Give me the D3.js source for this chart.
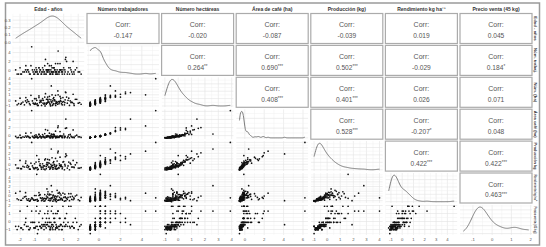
<!DOCTYPE html>
<html>
<head>
<meta charset="utf-8">
<script src="https://cdn.jsdelivr.net/npm/d3@7"></script>
<style>
  body { margin: 0; background: #fff; }
  svg { display: block; font-family: "Liberation Sans", Arial, sans-serif; }
</style>
</head>
<body>
<div id="chart"></div>
<script>
// column / row strip labels
const colLabels = ["Edad - años", "Número trabajadores", "Número hectáreas", "Área de café (ha)",
    "Producción (kg)", "Rendimiento kg ha\u207B\u00B9", "Precio venta (45 kg)"];
const rowLabels = ["Edad - años", "Núm. trabaj.", "Núm. (ha)", "Área café (ha)",
    "Producción kg", "Rendimiento kg ha\u207B\u00B9", "Precio venta (45 kg)"];

// standardised observations, one array per variable
const edad = [-2.1,-1.8,-1.5,-1.3,-1.1,-0.9,-0.8,-0.6,-0.5,-0.3,
    -0.2,-0.1,0.0,0.1,0.2,0.3,0.4,0.5,0.6,0.7,
    0.8,0.9,1.0,1.1,1.2,1.4,1.5,1.7,1.9,2.2,
    -2.3,-1.9,-1.6,-1.4,-1.2,-1.0,-0.9,-0.7,-0.55,-0.4,
    -0.25,-0.15,-0.05,0.05,0.15,0.25,0.35,0.45,0.55,0.65,
    0.75,0.85,0.95,1.05,1.15,1.3,1.45,1.6,1.8,2.0,
    -2.0,-1.7,-1.45,-1.25,-1.05,-0.85,-0.65,-0.45,-0.35,-0.2,
    -0.1,0.0,0.12,0.22,0.32,0.42,0.62,0.82,1.25,1.65,
    -1.95,-1.55,-1.15,-0.75,-0.42,-0.18,0.08,0.28,0.48,0.72,
    -1.35,-0.95,-0.62,-0.28,0.02,0.18,0.38,0.58,0.92,1.35,
    -2.2,-1.62,-0.82,-0.52,-0.12,0.14,0.44,0.68,1.08,1.55,
    -1.0,-0.7,-0.32,-0.08,0.26,0.52,0.78,1.12,1.72,2.1];
const trabajadores = [-0.82,-0.35,0.12,-0.82,-0.35,0.59,-0.82,0.12,-0.35,1.06,
    -0.82,-0.35,0.12,-0.82,0.59,-0.35,0.12,-0.82,1.53,-0.35,
    0.12,-0.82,0.59,-0.35,2.0,-0.82,0.12,-0.35,0.59,-0.82,
    0.12,-0.82,1.06,-0.35,5.3,0.12,-0.35,0.59,-0.82,0.12,
    2.47,-0.35,0.12,-0.82,1.06,-0.35,0.59,-0.82,0.12,-0.35,
    1.53,-0.35,0.12,-0.82,2.94,-0.35,0.59,-0.82,0.12,-0.35,
    0.59,-0.35,0.12,1.06,-0.82,0.12,-0.35,0.59,-0.82,0.12,
    1.53,-0.35,0.12,-0.82,0.59,-0.35,4.35,0.12,-0.82,2.0,
    -0.82,-0.35,0.12,-0.82,-0.35,0.12,-0.82,0.59,-0.35,0.12,
    -0.82,-0.35,0.12,-0.82,1.06,-0.35,0.12,-0.82,-0.35,0.59,
    -0.82,0.12,-0.35,-0.82,0.12,-0.35,1.53,-0.82,0.12,-0.35,
    -0.82,0.59,-0.35,0.12,-0.82,-0.35,0.12,2.47,-0.82,-0.35];
const hectareas = [-0.6,-0.3,0.1,-0.8,-0.5,0.3,-0.9,-0.2,0.0,0.6,
    -0.7,-0.4,0.2,-1.0,1.0,-0.6,-0.1,-0.5,1.7,-0.3,
    0.4,-0.8,-0.2,0.1,0.6,-0.9,-0.4,-0.6,0.2,-0.7,
    -0.1,-0.5,0.5,-0.2,3.9,0.3,-0.7,0.8,-0.3,0.0,
    1.2,-0.5,-0.3,-0.6,2.6,-0.1,0.1,-0.9,-0.4,-0.2,
    0.7,-0.6,0.5,-0.8,1.4,0.0,-0.1,-0.4,0.2,-0.5,
    0.4,-0.8,-0.2,0.9,-0.6,0.0,-0.4,0.3,-0.7,-0.5,
    0.6,-0.3,0.1,-0.9,0.5,-0.6,1.0,-0.2,-0.5,1.1,
    -0.7,-0.4,-0.1,-0.9,-0.5,0.2,-0.8,0.3,-0.3,-0.2,
    -0.6,-0.5,0.0,-1.0,0.7,-0.4,0.1,-0.7,-0.3,0.4,
    -0.8,-0.1,-0.6,-0.9,0.2,-0.2,0.9,-0.6,-0.4,-0.3,
    -0.7,0.5,-0.5,-0.1,-0.8,-0.2,0.0,1.5,-0.9,-0.4];
const areaCafe = [-0.45,-0.3,-0.1,-0.5,-0.35,0.2,-0.55,-0.2,-0.3,0.5,
    -0.4,-0.25,-0.1,-0.5,0.3,-0.3,-0.15,-0.45,2.0,-0.2,
    0.0,-0.5,0.4,-0.3,1.9,-0.55,-0.1,-0.35,0.1,-0.45,
    -0.2,-0.5,0.6,-0.3,6.2,0.0,-0.4,0.3,-0.5,-0.15,
    1.5,-0.3,-0.2,-0.5,0.4,-0.25,0.2,-0.55,-0.1,-0.35,
    1.0,-0.3,-0.05,-0.5,4.1,-0.2,0.3,-0.45,-0.1,-0.3,
    0.1,-0.4,-0.2,0.7,-0.5,-0.1,-0.3,0.25,-0.45,-0.15,
    1.3,-0.25,0.0,-0.5,0.35,-0.3,2.4,-0.15,-0.5,1.4,
    -0.5,-0.35,-0.2,-0.5,-0.3,-0.1,-0.45,0.15,-0.3,-0.15,
    -0.5,-0.3,-0.15,-0.55,0.6,-0.25,-0.1,-0.45,-0.35,0.2,
    -0.5,-0.1,-0.3,-0.55,0.0,-0.2,1.1,-0.45,-0.15,-0.3,
    -0.5,0.3,-0.35,-0.05,-0.5,-0.25,-0.1,1.8,-0.5,-0.3];
const produccion = [-0.7,-0.4,-0.2,-0.9,-0.6,0.4,-1.0,-0.3,-0.5,0.8,
    -0.8,-0.1,0.2,-0.7,1.2,-0.6,-0.4,-0.9,2.1,0.1,
    -0.2,-0.8,0.5,-0.3,1.6,-1.0,0.0,-0.5,0.3,-0.6,
    -0.1,-0.8,0.6,-0.4,4.0,0.1,-0.7,0.9,-0.6,-0.3,
    1.0,0.3,-0.5,-0.9,2.8,-0.2,0.0,-0.7,0.6,-0.6,
    1.3,-0.4,0.4,-1.0,1.9,-0.3,0.2,-0.5,-0.1,-0.7,
    0.7,-0.5,-0.6,0.2,-0.8,1.6,-0.2,0.1,-0.9,-0.4,
    0.9,-0.5,0.0,-0.6,0.5,-0.8,2.4,-0.1,-0.7,0.7,
    -0.8,-0.5,-0.3,-0.9,-0.6,0.0,-0.7,0.3,-0.4,-0.2,
    -0.9,-0.6,0.1,-1.0,0.8,-0.3,-0.1,-0.8,-0.5,0.4,
    -0.7,0.2,-0.6,-0.9,-0.1,-0.4,1.1,-0.7,0.0,-0.5,
    -0.8,0.5,-0.3,0.3,-0.9,-0.2,-0.4,1.4,-0.6,-0.7];
const rendimiento = [-0.8,-0.5,-0.9,-1.0,-0.7,0.1,-1.1,-0.4,-0.9,0.3,
    -0.6,0.4,0.2,-0.95,0.9,-0.8,-0.7,-1.2,0.0,0.8,
    -0.6,-0.7,-0.3,-0.2,-0.5,-1.0,0.5,-0.4,0.2,-0.3,
    0.6,-0.9,-0.1,-0.6,-0.4,0.1,-0.8,0.7,-0.5,-0.6,
    -0.6,1.5,-0.9,-1.0,2.2,0.0,-0.4,-0.6,1.2,-0.9,
    0.5,-0.5,0.6,-1.1,-1.0,-0.3,-0.2,-0.1,0.0,-0.8,
    1.0,-0.2,-0.9,-0.7,-0.9,4.6,0.2,-0.4,-1.1,-0.5,
    -0.3,-0.6,0.3,-0.4,0.1,-1.0,0.6,0.2,-0.7,-0.8,
    -0.9,-0.6,-0.5,-1.0,-0.8,0.0,-0.5,0.2,-0.7,-0.3,
    -1.1,-0.8,0.3,-1.0,0.4,-0.4,-0.2,-0.9,-0.9,0.5,
    -0.6,0.7,-0.7,-1.0,-0.3,-0.6,0.0,-0.8,0.4,-0.7,
    -0.9,0.1,-0.5,0.9,-1.1,-0.2,-0.8,-0.3,-0.6,-1.0];
const precio = [-0.6,-1.0,1.9,-0.8,-0.1,1.3,-1.5,-0.6,-0.4,1.0,
    -0.8,-0.1,0.4,-1.0,1.9,-0.6,-0.1,-0.8,1.3,0.4,
    -0.4,-1.0,-0.1,-0.6,1.0,-0.6,1.9,-0.8,-0.1,-0.4,
    -0.6,-0.8,0.4,-1.0,1.3,-0.1,-0.6,1.0,-0.8,-0.4,
    -0.1,1.9,-0.6,-1.0,1.3,-0.4,-0.1,-0.8,1.0,-0.6,
    0.4,-1.0,1.9,-0.6,-0.4,-0.1,-0.8,-0.6,0.4,-1.0,
    1.3,-0.4,-0.6,-0.1,-0.8,1.9,-0.6,0.4,-1.0,-0.4,
    1.0,-0.6,-0.1,-0.8,0.4,-1.0,1.3,-0.4,-0.6,-0.1,
    -0.8,-0.6,-0.1,-1.0,-0.6,0.4,-0.8,1.0,-0.4,-0.6,
    -1.0,-0.8,1.3,-0.6,-0.1,-0.4,0.4,-0.8,-0.6,1.9,
    -1.0,-0.1,-0.6,-0.8,-0.4,-0.6,1.0,-1.0,0.4,-0.6,
    -0.8,-0.1,-0.4,1.3,-1.0,-0.6,-0.4,0.4,-0.8,-0.6];

// axis ticks per variable
const varTicks = [[-2,-1,0,1,2], [0,2,4], [-1,0,1,2,3,4], [0,2,4,6],
    [-1,0,1,2,3,4], [-1,0,1,2,3,4], [-1,0,1,2]];
const densityTicks = [0.0, 0.1, 0.2, 0.3];

// upper triangle correlations, read row by row
const corrValues = ["-0.147","-0.020","-0.087","-0.039","0.019","0.045",
    "0.264","0.690","0.502","-0.029","0.184",
    "0.408","0.401","0.026","0.071",
    "0.528","-0.207","0.048",
    "0.422","0.422",
    "0.463"];
const corrStars = ["","","","","","",
    "**","***","***","","*",
    "***","***","","",
    "***","*","",
    "***","***",
    "***"];

const vars = [edad, trabajadores, hectareas, areaCafe, produccion, rendimiento, precio];
const n = vars.length;

const W = 546, H = 247;
const left0 = 12.4, colStep = 74.6, cellW = 72;
const top0 = 13.5, rowStep = 31.9, cellH = 30;

const svg = d3.select("#chart").append("svg")
    .attr("width", W).attr("height", H);

svg.append("rect").attr("width", W).attr("height", H).attr("fill", "#fff");

// outer frame
svg.append("rect")
    .attr("x", 5.5).attr("y", 3).attr("width", 534).attr("height", 242)
    .attr("fill", "none").attr("stroke", "#9a9a9a").attr("stroke-width", 1.5);

const cx = j => left0 + j * colStep;
const cy = i => top0 + i * rowStep;

function padded(v) {
    const [lo, hi] = d3.extent(v);
    const p = (hi - lo) * 0.05;
    return [lo - p, hi + p];
}

const xs = vars.map((v, j) => d3.scaleLinear().domain(padded(v)).range([cx(j), cx(j) + cellW]));
const ys = vars.map((v, i) => d3.scaleLinear().domain(padded(v)).range([cy(i) + cellH, cy(i)]));

function minors(t) {
    const out = [];
    for (let k = 0; k < t.length - 1; k++) out.push((t[k] + t[k + 1]) / 2);
    const step = t.length > 1 ? t[1] - t[0] : 1;
    out.push(t[0] - step / 2, t[t.length - 1] + step / 2);
    return out;
}

function nrd0(v) {
    const s = d3.deviation(v);
    const sorted = v.slice().sort(d3.ascending);
    const iqr = (d3.quantile(sorted, 0.75) - d3.quantile(sorted, 0.25)) / 1.34;
    return 0.9 * Math.min(s, iqr || s) * Math.pow(v.length, -0.2);
}

function kde(v) {
    const bw = nrd0(v);
    const [lo, hi] = d3.extent(v);
    return d3.range(0, 121).map(k => {
        const x = lo + (hi - lo) * k / 120;
        const d = d3.sum(v, t => Math.exp(-0.5 * ((x - t) / bw) ** 2)) / (v.length * bw * Math.sqrt(2 * Math.PI));
        return [x, d];
    });
}

const defs = svg.append("defs");

for (let i = 0; i < n; i++) {
    for (let j = 0; j < n; j++) {
        const x0 = cx(j), y0 = cy(i);
        const g = svg.append("g");

        if (j > i) {
            // correlation box
            const k = i * n - (i * (i + 1)) / 2 + (j - i - 1);
            g.append("rect")
                .attr("x", x0).attr("y", y0).attr("width", cellW).attr("height", cellH)
                .attr("fill", "#fff").attr("stroke", "#ababab").attr("stroke-width", 1.2);
            g.append("text")
                .attr("x", x0 + cellW / 2).attr("y", y0 + cellH * 0.38 + 2.5)
                .attr("text-anchor", "middle").style("font-size", "7px").style("fill", "#555")
                .text("Corr:");
            const t = g.append("text")
                .attr("x", x0 + cellW / 2).attr("y", y0 + cellH * 0.73 + 2.5)
                .attr("text-anchor", "middle").style("font-size", "6.6px").style("fill", "#555");
            t.append("tspan").text(corrValues[k]);
            if (corrStars[k]) t.append("tspan").attr("dy", -1.5).style("font-size", "4.5px").text(corrStars[k]);
            continue;
        }

        // grid
        const clipId = `clip-${i}-${j}`;
        defs.append("clipPath").attr("id", clipId).append("rect")
            .attr("x", x0).attr("y", y0).attr("width", cellW).attr("height", cellH);
        const pg = g.append("g").attr("clip-path", `url(#${clipId})`);

        const xt = varTicks[j];
        pg.selectAll("line.vmin").data(minors(xt)).enter().append("line")
            .attr("x1", d => xs[j](d)).attr("x2", d => xs[j](d))
            .attr("y1", y0).attr("y2", y0 + cellH)
            .attr("stroke", "#f0f0f0").attr("stroke-width", 0.5);
        pg.selectAll("line.vmaj").data(xt).enter().append("line")
            .attr("x1", d => xs[j](d)).attr("x2", d => xs[j](d))
            .attr("y1", y0).attr("y2", y0 + cellH)
            .attr("stroke", "#e2e2e2").attr("stroke-width", 0.6);

        let yScale, yt;
        if (i === j) {
            const dens = kde(vars[j]);
            const maxD = d3.max(dens, d => d[1]);
            yScale = j === 0
                ? d3.scaleLinear().domain([-0.015, 0.39]).range([y0 + cellH, y0])
                : d3.scaleLinear().domain([-0.05 * maxD, maxD * 1.08]).range([y0 + cellH, y0]);
            yt = j === 0 ? densityTicks : yScale.ticks(4);
            pg.selectAll("line.hmin").data(minors(yt)).enter().append("line")
                .attr("x1", x0).attr("x2", x0 + cellW)
                .attr("y1", d => yScale(d)).attr("y2", d => yScale(d))
                .attr("stroke", "#f0f0f0").attr("stroke-width", 0.5);
            pg.selectAll("line.hmaj").data(yt).enter().append("line")
                .attr("x1", x0).attr("x2", x0 + cellW)
                .attr("y1", d => yScale(d)).attr("y2", d => yScale(d))
                .attr("stroke", "#e2e2e2").attr("stroke-width", 0.6);
            pg.append("path")
                .datum(dens)
                .attr("fill", "none").attr("stroke", "#6e6e6e").attr("stroke-width", 0.9)
                .attr("d", d3.line().x(d => xs[j](d[0])).y(d => yScale(d[1])).curve(d3.curveBasis));
        } else {
            yScale = ys[i];
            yt = varTicks[i];
            pg.selectAll("line.hmin").data(minors(yt)).enter().append("line")
                .attr("x1", x0).attr("x2", x0 + cellW)
                .attr("y1", d => yScale(d)).attr("y2", d => yScale(d))
                .attr("stroke", "#f0f0f0").attr("stroke-width", 0.5);
            pg.selectAll("line.hmaj").data(yt).enter().append("line")
                .attr("x1", x0).attr("x2", x0 + cellW)
                .attr("y1", d => yScale(d)).attr("y2", d => yScale(d))
                .attr("stroke", "#e2e2e2").attr("stroke-width", 0.6);
            pg.selectAll("circle").data(d3.range(vars[j].length)).enter().append("circle")
                .attr("cx", k => xs[j](vars[j][k]))
                .attr("cy", k => yScale(vars[i][k]))
                .attr("r", 0.85)
                .attr("fill", "#111");
        }

        // left axis labels
        if (j === 0) {
            const labels = i === 0 ? densityTicks : varTicks[i];
            const fmt = i === 0 ? d3.format(".1f") : d3.format("d");
            g.selectAll("text.yl").data(labels).enter().append("text")
                .attr("x", 10.5).attr("y", d => yScale(d) + 1.5)
                .attr("text-anchor", "end").style("font-size", "4.2px").style("fill", "#555")
                .text(d => fmt(d));
        }
    }
}

// bottom axis labels
for (let j = 0; j < n; j++) {
    svg.append("g").selectAll("text").data(varTicks[j]).enter().append("text")
        .attr("x", d => xs[j](d)).attr("y", 240.5)
        .attr("text-anchor", "middle").style("font-size", "4.2px").style("fill", "#555")
        .text(d => d);
}

// column strips
colLabels.forEach((lab, j) => {
    svg.append("text")
        .attr("x", cx(j) + cellW / 2).attr("y", 10.5)
        .attr("text-anchor", "middle")
        .style("font-size", "5px").style("font-weight", "bold").style("fill", "#333")
        .text(lab);
});

// row strips on the right
rowLabels.forEach((lab, i) => {
    const mid = cy(i) + cellH / 2;
    const t = svg.append("text")
        .attr("transform", `translate(534.3,${mid}) rotate(90)`)
        .attr("text-anchor", "middle")
        .style("font-size", "4.3px").style("font-weight", "bold").style("fill", "#333")
        .text(lab);
    if (lab.length > 12) t.attr("textLength", 27).attr("lengthAdjust", "spacingAndGlyphs");
});
</script>
</body>
</html>
